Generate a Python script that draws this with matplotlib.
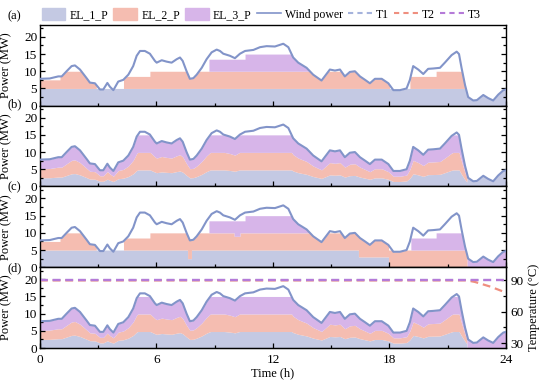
import numpy as np
import matplotlib
matplotlib.use("Agg")
import matplotlib.pyplot as plt
from matplotlib.patches import Patch
from matplotlib.lines import Line2D
from matplotlib.ticker import MultipleLocator

plt.rcParams['font.family'] = ['Liberation Serif', 'DejaVu Serif']

# ---------------- data ----------------
t_wind = [0, 0.5, 0.94, 1.12, 1.37, 1.63, 1.8, 2.06, 2.4, 2.57, 2.83, 3.09, 3.26, 3.47, 3.6, 3.78,
          4.03, 4.29, 4.55, 4.8, 4.98, 5.15, 5.4, 5.66, 5.92, 6.01, 6.27, 6.52, 6.78, 7.04, 7.21,
          7.35, 7.55, 7.72, 7.9, 8.07, 8.33, 8.58, 8.84, 9.1, 9.27, 9.44, 9.78, 10.04, 10.3, 10.56,
          10.99, 11.33, 11.67, 12.1, 12.53, 12.79, 13.04, 13.3, 13.73, 14.07, 14.5, 14.93, 15.19,
          15.45, 15.7, 15.96, 16.22, 16.48, 16.74, 16.99, 17.25, 17.6, 17.94, 18.2, 18.54, 18.88,
          19.05, 19.22, 19.48, 19.74, 19.99, 20.25, 20.6, 20.85, 21.2, 21.46, 21.58, 21.71, 21.89,
          22.05, 22.31, 22.5, 22.83, 23.08, 23.34, 23.6, 23.86, 24]
p_wind = [7.8, 7.9, 8.5, 8.5, 10, 11.5, 11.7, 10.5, 8, 6.7, 6.5, 4.7, 4.7, 6.6, 5.5, 4.5,
          7, 7.5, 9, 11.5, 14.5, 15.9, 15.9, 15.1, 13, 12.5, 13.2, 12.8, 12.5, 13.5, 14,
          13, 10, 7.8, 8, 9, 11, 13.5, 15.5, 16.3, 15.9, 15.1, 14.5, 13.8, 15.1, 15.9,
          16.2, 17, 17.3, 17.2, 18, 17, 14, 12.5, 11, 9, 7.3, 10.5, 10.2,
          10.5, 8.5, 9.8, 10, 8.5, 7.5, 6.5, 7.8, 7.8, 6.5, 4.5, 4.5, 5,
          7.5, 11.5, 10.5, 9.2, 10.7, 10.8, 11, 12.5, 14.7, 15.7, 15, 11, 6,
          2.5, 1.5, 1.6, 3.1, 2.2, 1.5, 3.2, 4.5, 4.7]

# Panel (a): cumulative capacity limits (step edges in h, levels in MW)
a_el1_edges = [0, 24]
a_el1_levels = [5]
a_el12_edges = [0, 1.03, 2.9, 4.3, 5.66, 18.0, 19.05, 20.4, 24]
a_el12_levels = [7.5, 10, 5, 8.5, 10, 5, 8.5, 10]
a_el123_edges = [0, 1.03, 2.9, 4.3, 5.66, 8.7, 10.56, 14.0, 18.0, 19.05, 20.4, 24]
a_el123_levels = [7.5, 10, 5, 8.5, 10, 13.5, 15, 10, 5, 8.5, 10]

# Panel (c)
c_el1_edges = [0, 7.6, 7.8, 16.4, 17.95, 24]
c_el1_levels = [5, 2.5, 5, 3, 0]
c_el12_edges = [0, 1.03, 2.9, 4.3, 5.66, 10.0, 10.3, 17.95, 22.0, 24]
c_el12_levels = [7.5, 10, 5, 8.5, 10, 9, 10, 5, 0]
c_el123_edges = [0, 1.03, 2.9, 4.3, 5.66, 8.7, 10.56, 14.0, 17.95, 19.1, 20.4, 22.0, 24]
c_el123_levels = [7.5, 10, 5, 8.5, 10, 13.5, 15, 10, 5, 8.5, 10, 15]

# Panels (b), (d): shares of absorbed power
total_cap = 15
el1_share = 0.32
el12_share = 0.66
single_after = 22.0

# Temperatures (panel d)
t_T1 = [0, 24]
T1 = [90, 90]
t_T2 = [0, 22.0, 22.4, 23.2, 23.9, 24]
T2 = [90, 90, 88.5, 84, 79, 78]
t_T3 = [0, 24]
T3 = [90, 90]

legend_labels = ['EL_1_P', 'EL_2_P', 'EL_3_P', 'Wind power', 'T1', 'T2', 'T3']
panel_labels = ['(a)', '(b)', '(c)', '(d)']

# ---------------- styling ----------------
C1 = '#c4c9e3'
C2 = '#f5bdb1'
C3 = '#d7b5e9'
CW = '#8294c9'
CT1 = '#a5b3dc'
CT2 = '#ef8f7f'
CT3 = '#b57ad8'
FS = 9.5
FSL = 8.5


def step_points(edges, levels):
    ts, vs = [edges[0]], [levels[0]]
    for i in range(1, len(levels)):
        ts += [edges[i], edges[i] + 1e-3]
        vs += [levels[i - 1], levels[i]]
    ts.append(edges[-1])
    vs.append(levels[-1])
    return np.array(ts), np.array(vs)


all_edges = (a_el12_edges + a_el123_edges + c_el1_edges + c_el12_edges + c_el123_edges)
grid = np.unique(np.concatenate([t_wind, all_edges, np.array(all_edges) + 1e-3,
                                 np.linspace(0, 24, 1201)]))
grid = grid[grid <= 24]
w = np.interp(grid, t_wind, p_wind)


def cap(edges, levels):
    ts, vs = step_points(edges, levels)
    return np.interp(grid, ts, vs)


def layers_from_caps(c1, c12, c123):
    L1 = np.minimum(w, c1)
    L12 = np.maximum(L1, np.minimum(w, c12))
    L123 = np.maximum(L12, np.minimum(w, c123))
    return L1, L12, L123


fig = plt.figure(figsize=(5.5, 3.88), dpi=100)
gs = fig.add_gridspec(4, 1, left=0.0727, right=0.92, top=0.936, bottom=0.103, hspace=0)
axes = [fig.add_subplot(gs[i]) for i in range(4)]

La = layers_from_caps(cap(a_el1_edges, a_el1_levels), cap(a_el12_edges, a_el12_levels),
                      cap(a_el123_edges, a_el123_levels))
Lc = layers_from_caps(cap(c_el1_edges, c_el1_levels), cap(c_el12_edges, c_el12_levels),
                      cap(c_el123_edges, c_el123_levels))
tot = np.minimum(w, total_cap)
late = grid >= single_after
Lb = (np.where(late, tot, el1_share * tot), np.where(late, tot, el12_share * tot), tot)
Ld = (np.where(late, 0, el1_share * tot), np.where(late, 0, el12_share * tot), tot)

for ax, L in zip(axes, [La, Lb, Lc, Ld]):
    L1, L12, L123 = L
    ax.fill_between(grid, 0, L1, color=C1, lw=0)
    ax.fill_between(grid, L1, L12, color=C2, lw=0)
    ax.fill_between(grid, L12, L123, color=C3, lw=0)
    ax.plot(t_wind, p_wind, color=CW, lw=1.5, zorder=5)
    ax.set_xlim(0, 24)
    ax.set_ylim(0, 23.5)
    ax.set_yticks([0, 5, 10, 15, 20])
    ax.yaxis.set_minor_locator(MultipleLocator(2.5))
    ax.set_xticks([0, 6, 12, 18, 24])
    ax.xaxis.set_minor_locator(MultipleLocator(3))
    ax.tick_params(axis='both', which='both', direction='in', labelsize=FS, width=0.9)
    ax.tick_params(axis='both', which='major', length=3.5, pad=2)
    ax.tick_params(axis='both', which='minor', length=2)
    ax.tick_params(axis='y', which='both', right=True)
    ax.set_ylabel('Power (MW)', fontsize=9)
    ax.yaxis.set_label_coords(-0.06, 0.5)
    for s in ax.spines.values():
        s.set_linewidth(1.0)
    if ax is not axes[-1]:
        ax.tick_params(axis='x', labelbottom=False)

axd = axes[3]
axd.tick_params(axis='y', which='both', right=False)
axd.tick_params(axis='x', which='major', pad=4)
axd.set_xlabel('Time (h)', fontsize=9, labelpad=1)

ax2 = axd.twinx()
ax2.set_ylim(25.2, 102.6)
ax2.set_yticks([30, 60, 90])
ax2.yaxis.set_minor_locator(MultipleLocator(15))
ax2.tick_params(axis='y', which='both', direction='in', labelsize=FS, width=0.9)
ax2.tick_params(axis='y', which='major', length=3.5, pad=3)
ax2.tick_params(axis='y', which='minor', length=2)
ax2.set_ylabel('Temperature (°C)', fontsize=9, labelpad=3)
dash = (0, (3.5, 2.2))
ax2.plot(t_T1, T1, color=CT1, lw=1.6, linestyle=dash)
ax2.plot(t_T2, T2, color=CT2, lw=1.6, linestyle=dash)
ax2.plot(t_T3, T3, color=CT3, lw=1.6, linestyle=dash)

label_y = [1 - 16 / 388, 1 - 104 / 388, 1 - 187 / 388, 1 - 268 / 388]
for lab, y in zip(panel_labels, label_y):
    fig.text(7 / 550, y, lab, fontsize=9, ha='left', va='center')

handles = [Patch(facecolor=C1, edgecolor=C1), Patch(facecolor=C2, edgecolor=C2),
           Patch(facecolor=C3, edgecolor=C3),
           Line2D([], [], color=CW, lw=1.2),
           Line2D([], [], color=CT1, lw=1.5, linestyle=(0, (2.5, 2))),
           Line2D([], [], color=CT2, lw=1.5, linestyle=(0, (2.5, 2))),
           Line2D([], [], color=CT3, lw=1.5, linestyle=(0, (2.5, 2)))]
fig.legend(handles, legend_labels, loc='center', bbox_to_anchor=(0.475, 0.962), ncol=7,
           frameon=False, fontsize=FSL, handlelength=2.0, handleheight=1.2,
           columnspacing=0.45, handletextpad=0.35, borderpad=0, borderaxespad=0)

fig.savefig('out.png', dpi=100)
